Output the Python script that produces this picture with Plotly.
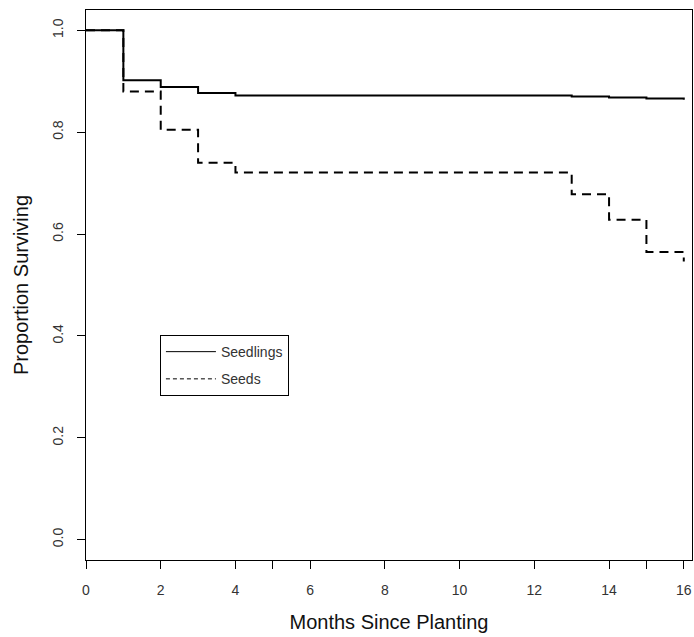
import plotly.graph_objects as go

# Data
months = [0, 1, 2, 3, 4, 13, 14, 15, 16]
seedlings = [1.0, 0.902, 0.889, 0.877, 0.872, 0.870, 0.868, 0.866, 0.864]
seeds = [1.0, 0.880, 0.805, 0.740, 0.721, 0.678, 0.628, 0.565, 0.546]
x_tickvals = [0, 2, 4, 5, 6, 8, 10, 12, 14, 15, 16]
x_ticktext = ["0", "2", "4", "", "6", "8", "10", "12", "14", "", "16"]
y_tickvals = [0.0, 0.2, 0.4, 0.6, 0.8, 1.0]
y_ticktext = ["0.0", "0.2", "0.4", "0.6", "0.8", "1.0"]

FONT = "Liberation Sans, Arial, sans-serif"

fig = go.Figure()
fig.add_trace(go.Scatter(x=months, y=seeds, mode="lines", line_shape="hv",
                         line=dict(color="black", width=2, dash="9px,6px"),
                         showlegend=False, hoverinfo="skip"))
fig.add_trace(go.Scatter(x=months, y=seedlings, mode="lines", line_shape="hv",
                         line=dict(color="black", width=2),
                         showlegend=False, hoverinfo="skip"))
# legend entries (thin lines as in the original legend)
fig.add_trace(go.Scatter(x=[None], y=[None], mode="lines", name="Seedlings",
                         legendgroup="a",
                         line=dict(color="black", width=1)))
fig.add_trace(go.Scatter(x=[None], y=[None], mode="lines", name="Seeds",
                         legendgroup="b",
                         line=dict(color="black", width=1, dash="4px,3px")))

fig.update_layout(
    width=694, height=637,
    margin=dict(l=86, r=2, t=10, b=77),
    paper_bgcolor="white", plot_bgcolor="white",
    font=dict(family=FONT, color="#333", size=14),
    legend=dict(x=0.122, y=0.409, xanchor="left", yanchor="top",
                bordercolor="black", borderwidth=1, bgcolor="white",
                font=dict(size=14, color="#333"), itemwidth=50,
                tracegroupgap=6),
    xaxis=dict(range=[0, 16.22], tickmode="array", tickvals=x_tickvals,
               ticktext=x_ticktext, ticks="outside", ticklen=8, tickcolor="black",
               showline=True, linecolor="black", linewidth=1, mirror=True,
               showgrid=False, zeroline=False, ticklabelstandoff=9,
               tickfont=dict(size=14, color="#333"),
               title=dict(text="Months Since Planting", font=dict(size=20, color="#111"),
                          standoff=18)),
    yaxis=dict(range=[-0.04, 1.04], tickmode="array", tickvals=y_tickvals,
               ticktext=y_ticktext, ticks="outside", ticklen=8, tickcolor="black",
               tickangle=-90,
               showline=True, linecolor="black", linewidth=1, mirror=True,
               showgrid=False, zeroline=False, ticklabelstandoff=8,
               tickfont=dict(size=14, color="#333"),
               title=dict(text="Proportion Surviving", font=dict(size=20, color="#111"),
                          standoff=16)),
)

fig.write_html("out.html")
